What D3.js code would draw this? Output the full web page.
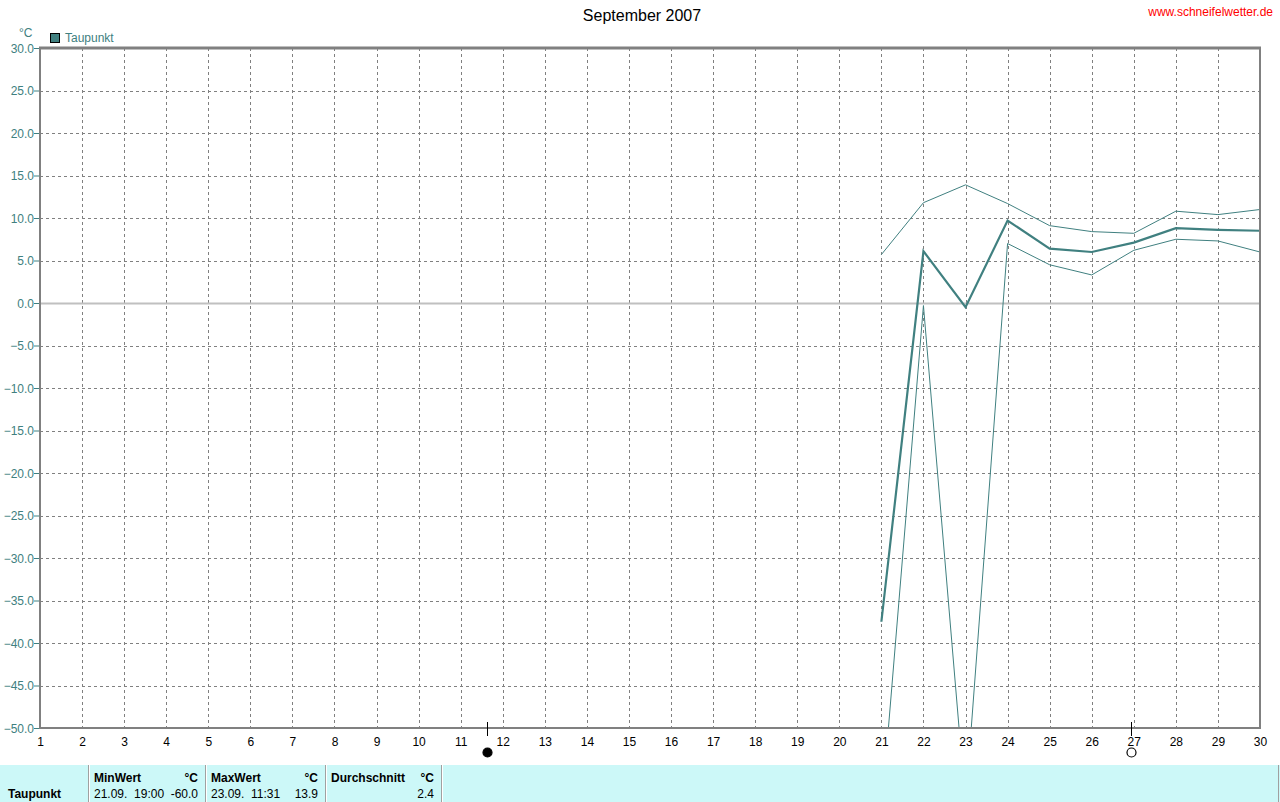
<!DOCTYPE html>
<html><head><meta charset="utf-8">
<script src="https://cdn.jsdelivr.net/npm/d3@7"></script>
<style>
html,body{margin:0;padding:0;background:#fff;}
svg{display:block;font-family:"Liberation Sans",Arial,sans-serif;}
</style></head>
<body>
<script>
const title = "September 2007";
const siteUrl = "www.schneifelwetter.de";
const seriesName = "Taupunkt";
const unit = "°C";
const dayTicks = d3.range(1, 31);
const yTicks = d3.range(-50, 30.1, 5);
const days = [21, 22, 23, 24, 25, 26, 27, 28, 29, 30];
const meanVals = [-37.5, 6.1, -0.5, 9.7, 6.4, 6.0, 7.1, 8.8, 8.6, 8.5];
const maxVals = [5.7, 11.8, 13.9, 11.7, 9.1, 8.4, 8.2, 10.8, 10.4, 11.0];
const minVals = [-60.0, -0.3, -59.0, 7.0, 4.5, 3.3, 6.2, 7.5, 7.3, 6.0];
const moonDays = [11.63, 26.93];
const moonTypes = ["new", "full"];
const tableHeaders = ["MinWert", "MaxWert", "Durchschnitt"];
const tableTimes = ["21.09.  19:00", "23.09.  11:31", ""];
const tableValues = ["-60.0", "13.9", "2.4"];

const W = 1280, H = 802;
const L = 40, R = 1260, T = 48, B = 728;
const teal = "#408080";

const svg = d3.select("body").append("svg").attr("width", W).attr("height", H);

const x = d3.scaleLinear().domain([1, 30]).range([L, R]);
const y = d3.scaleLinear().domain([-50, 30]).range([B, T]);

// title & url
svg.append("text").attr("x", 642).attr("y", 21).attr("text-anchor", "middle")
  .attr("font-size", 16).attr("fill", "#000").text(title);
svg.append("text").attr("x", 1273).attr("y", 16).attr("text-anchor", "end")
  .attr("font-size", 12).attr("fill", "#ff0000").text(siteUrl);

// legend
svg.append("text").attr("x", 19).attr("y", 37).attr("font-size", 12).attr("fill", teal).text(unit);
svg.append("rect").attr("x", 50.5).attr("y", 33.5).attr("width", 9).attr("height", 9)
  .attr("fill", teal).attr("stroke", "#000").attr("stroke-width", 1);
svg.append("text").attr("x", 65).attr("y", 42).attr("font-size", 12).attr("fill", teal).text(seriesName);

// grid
const g = svg.append("g");
g.selectAll(".vg").data(dayTicks.filter(d => d > 1 && d < 30)).enter().append("line")
  .attr("x1", d => Math.round(x(d)) + 0.5).attr("x2", d => Math.round(x(d)) + 0.5)
  .attr("y1", T).attr("y2", B)
  .attr("stroke", "#808080").attr("stroke-width", 1).attr("stroke-dasharray", "3,3");
g.selectAll(".hg").data(yTicks.filter(v => v > -50 && v < 30 && v !== 0)).enter().append("line")
  .attr("x1", L).attr("x2", R)
  .attr("y1", d => Math.round(y(d)) + 0.5).attr("y2", d => Math.round(y(d)) + 0.5)
  .attr("stroke", "#808080").attr("stroke-width", 1).attr("stroke-dasharray", "3,3");
// zero line
g.append("line").attr("x1", L).attr("x2", R).attr("y1", Math.round(y(0)) + 0.5).attr("y2", Math.round(y(0)) + 0.5)
  .attr("stroke", "#c0c0c0").attr("stroke-width", 2);

// y axis labels
const yAxis = d3.axisLeft(y).tickValues(yTicks).tickSize(6).tickFormat(d3.format(".1f"));
const ya = svg.append("g").attr("transform", `translate(${L},0)`).call(yAxis);
ya.select(".domain").remove();
ya.selectAll(".tick line").attr("stroke", teal);
ya.selectAll(".tick text").attr("fill", teal).attr("font-size", 12)
  .attr("font-family", "Liberation Sans, Arial, sans-serif").attr("x", -6).attr("dy", "0.35em");

// x axis labels
const xAxis = d3.axisBottom(x).tickValues(dayTicks).tickSize(0).tickFormat(d3.format("d"));
const xa = svg.append("g").attr("transform", `translate(0,${B})`).call(xAxis);
xa.select(".domain").remove();
xa.selectAll(".tick text").attr("fill", "#000").attr("font-size", 12)
  .attr("font-family", "Liberation Sans, Arial, sans-serif").attr("y", 9).attr("dy", "0.71em");

// lines
svg.append("clipPath").attr("id", "clip").append("rect")
  .attr("x", L).attr("y", T).attr("width", R - L).attr("height", B - T);
const lineGen = vals => d3.line().x((d, i) => x(days[i])).y((d) => y(d))(vals);
const lg = svg.append("g").attr("clip-path", "url(#clip)");
lg.append("path").attr("d", lineGen(maxVals)).attr("fill", "none").attr("stroke", teal).attr("stroke-width", 1);
lg.append("path").attr("d", lineGen(minVals)).attr("fill", "none").attr("stroke", teal).attr("stroke-width", 1);
lg.append("path").attr("d", lineGen(meanVals)).attr("fill", "none").attr("stroke", teal).attr("stroke-width", 2.2)
  .attr("stroke-linejoin", "miter");

// frame
const fr = svg.append("g").attr("stroke", "#808080").attr("fill", "none");
fr.append("line").attr("x1", L - 1).attr("x2", R + 1).attr("y1", T).attr("y2", T).attr("stroke-width", 3);
fr.append("line").attr("x1", L).attr("x2", L).attr("y1", T).attr("y2", B + 1).attr("stroke-width", 2);
fr.append("line").attr("x1", R).attr("x2", R).attr("y1", T).attr("y2", B + 1).attr("stroke-width", 2);
fr.append("line").attr("x1", L - 1).attr("x2", R + 1).attr("y1", B).attr("y2", B).attr("stroke-width", 2);

// moon markers
moonDays.forEach((d, i) => {
  const mx = Math.round(x(d)) + 0.5;
  svg.append("line").attr("x1", mx).attr("x2", mx).attr("y1", 722).attr("y2", 736)
    .attr("stroke", "#000").attr("stroke-width", 1);
  svg.append("circle").attr("cx", mx).attr("cy", 752.5).attr("r", 4.5)
    .attr("fill", moonTypes[i] === "new" ? "#000" : "#fff").attr("stroke", "#000").attr("stroke-width", 1.2);
});

// table
svg.append("rect").attr("x", 0).attr("y", 765).attr("width", W).attr("height", H - 765).attr("fill", "#ccf8f8");
svg.append("text").attr("x", 8).attr("y", 798).attr("font-size", 12).attr("font-weight", "bold").text(seriesName);
const seps = [88, 205, 325, 441];
seps.forEach(sx => {
  svg.append("line").attr("x1", sx + 0.5).attr("x2", sx + 0.5).attr("y1", 765).attr("y2", H).attr("stroke", "#a0a0a0");
  svg.append("line").attr("x1", sx + 1.5).attr("x2", sx + 1.5).attr("y1", 765).attr("y2", H).attr("stroke", "#ffffff");
});
svg.append("line").attr("x1", 1278.5).attr("x2", 1278.5).attr("y1", 765).attr("y2", H).attr("stroke", "#a0a0a0");
tableHeaders.forEach((h, i) => {
  const x0 = seps[i] + 6, x1 = seps[i + 1] - 7;
  svg.append("text").attr("x", x0).attr("y", 782).attr("font-size", 12).attr("font-weight", "bold").text(h);
  svg.append("text").attr("x", x1).attr("y", 782).attr("font-size", 12).attr("font-weight", "bold")
    .attr("text-anchor", "end").text(unit);
  svg.append("text").attr("x", x0).attr("y", 798).attr("font-size", 12).attr("xml:space", "preserve").text(tableTimes[i]);
  svg.append("text").attr("x", x1).attr("y", 798).attr("font-size", 12).attr("text-anchor", "end").text(tableValues[i]);
});
</script>
</body></html>
